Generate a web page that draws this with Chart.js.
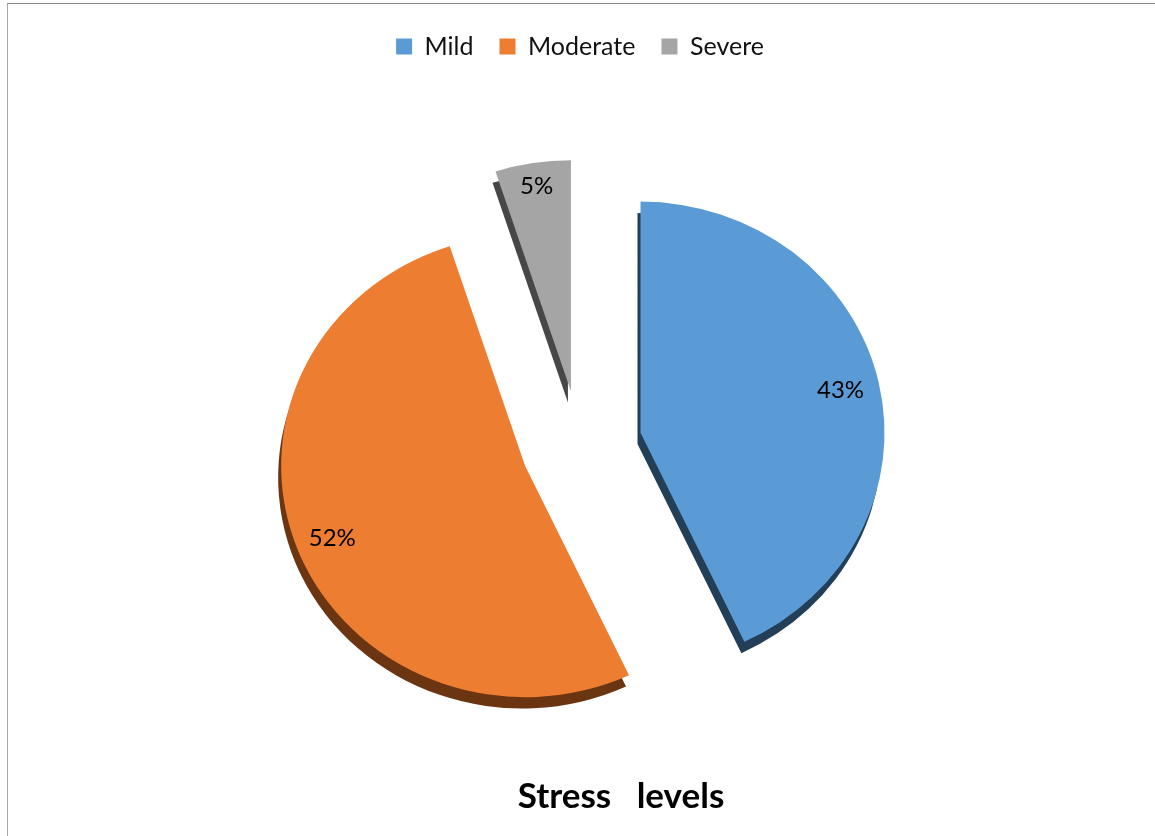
<!DOCTYPE html>
<html>
<head>
<meta charset="utf-8">
<script src="https://cdn.jsdelivr.net/npm/chart.js@4.4.1/dist/chart.umd.min.js"></script>
<style>
  html, body { margin: 0; padding: 0; background: #fff; overflow: hidden; }
  #frame { position: absolute; left: 7px; top: 3px; width: 1200px; height: 900px;
    border-left: 1px solid #a8a8a8; border-top: 1px solid #8a8a8a; }
  #stressChart { position: absolute; left: 0; top: 0; }
</style>
</head>
<body>
<div id="frame"></div>
<canvas id="stressChart" width="1155" height="836"></canvas>
<script>
const stressLabels = ['Mild', 'Moderate', 'Severe'];
const stressPercentages = [43, 52, 5];
const chartTitle = 'Stress   levels';

const sliceColors = ['#5B9BD5', '#ED7D31', '#A5A5A5'];
const sliceDepthColors = ['#233F58', '#6B3511', '#474747'];
const sliceExplode = [62, 59, 58];
const labelDistance = [0.84, 0.85, 0.9];
const depthShift = { x: -3, y: 12 };
const tiltRatio = 0.947;

const centerY = (chart) => (chart.chartArea.top + chart.chartArea.bottom) / 2;

// pull each slice out along its own middle angle
const explodeSlices = {
    id: 'explodeSlices',
    afterDatasetUpdate(chart, args) {
        args.meta.data.forEach((arc, i) => {
            const mid = (arc.startAngle + arc.endAngle) / 2;
            arc.x += Math.cos(mid) * sliceExplode[i];
            arc.y += Math.sin(mid) * sliceExplode[i];
        });
    }
};

// squash the pie a little vertically, like the tilted 3d pie
const pieTilt = {
    id: 'pieTilt',
    beforeDatasetsDraw(chart) {
        const ctx = chart.ctx;
        const cy = centerY(chart);
        ctx.save();
        ctx.translate(0, cy);
        ctx.scale(1, tiltRatio);
        ctx.translate(0, -cy);
    },
    afterDatasetsDraw(chart) {
        chart.ctx.restore();
    }
};

// darker copy underneath, gives the 3d edge
const sliceDepth = {
    id: 'sliceDepth',
    beforeDatasetDraw(chart, args) {
        const ctx = chart.ctx;
        ctx.save();
        ctx.translate(depthShift.x, depthShift.y);
        args.meta.data.forEach((arc, i) => {
            const ghost = Object.create(arc);
            ghost.options = Object.assign({}, arc.options, {
                backgroundColor: sliceDepthColors[i],
                borderColor: sliceDepthColors[i]
            });
            ghost.draw(ctx);
        });
        ctx.restore();
    }
};

const sliceLabels = {
    id: 'sliceLabels',
    afterDatasetsDraw(chart) {
        const ctx = chart.ctx;
        const meta = chart.getDatasetMeta(0);
        const cy = centerY(chart);
        ctx.save();
        ctx.font = '24px Lato';
        ctx.fillStyle = '#000';
        ctx.textAlign = 'center';
        ctx.textBaseline = 'middle';
        meta.data.forEach((arc, i) => {
            const mid = (arc.startAngle + arc.endAngle) / 2;
            const r = arc.outerRadius * labelDistance[i];
            const y = arc.y + Math.sin(mid) * r;
            ctx.fillText(`${stressPercentages[i]}%`, arc.x + Math.cos(mid) * r, cy + (y - cy) * tiltRatio);
        });
        ctx.restore();
    }
};

const bottomTitle = {
    id: 'bottomTitle',
    afterDraw(chart) {
        const ctx = chart.ctx;
        const area = chart.chartArea;
        ctx.save();
        ctx.font = 'bold 35px Lato';
        ctx.fillStyle = '#000';
        ctx.textAlign = 'center';
        ctx.textBaseline = 'middle';
        ctx.fillText(chartTitle, (area.left + area.right) / 2 + 41, chart.height - 39);
        ctx.restore();
    }
};

const ctx = document.getElementById('stressChart').getContext('2d');

new Chart(ctx, {
    type: 'pie',
    data: {
        labels: stressLabels,
        datasets: [{
            data: stressPercentages,
            backgroundColor: sliceColors,
            borderWidth: 0,
            radius: 244
        }]
    },
    options: {
        responsive: false,
        animation: false,
        events: [],
        layout: { padding: { left: 5, right: 0, top: 8, bottom: 14 } },
        plugins: {
            legend: {
                position: 'top',
                labels: {
                    boxWidth: 16,
                    boxHeight: 16,
                    padding: 26,
                    color: '#111',
                    font: { family: 'Lato', size: 25 }
                }
            },
            tooltip: { enabled: false },
            title: { display: false }
        }
    },
    plugins: [explodeSlices, pieTilt, sliceDepth, sliceLabels, bottomTitle]
});
</script>
</body>
</html>
